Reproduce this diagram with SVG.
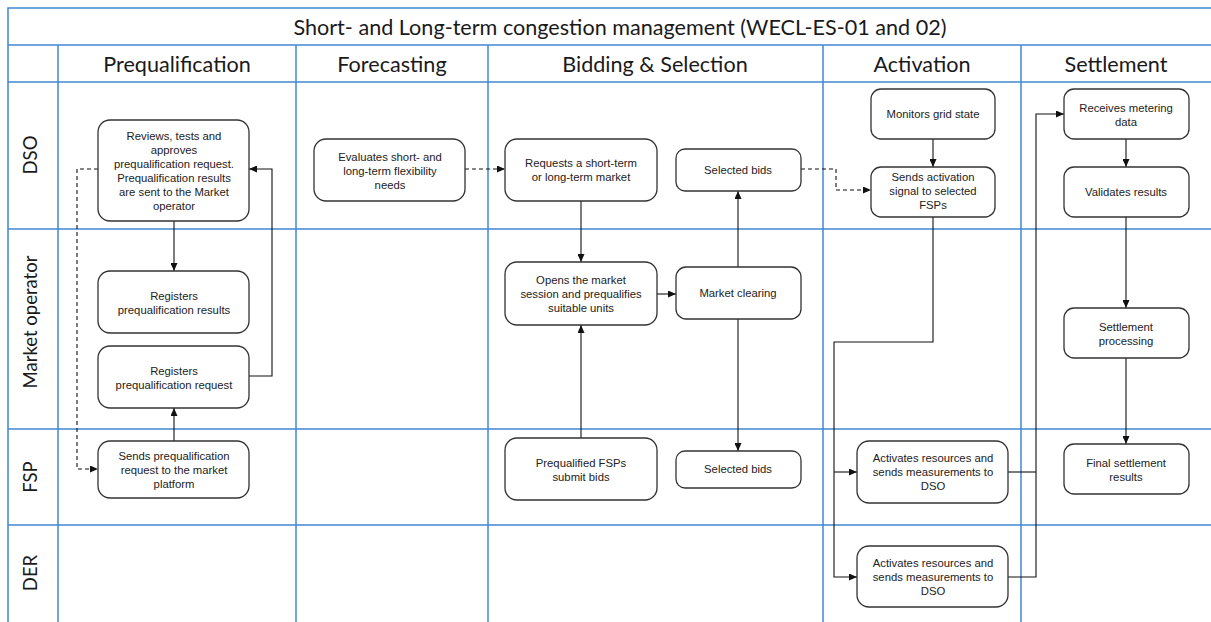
<svg xmlns="http://www.w3.org/2000/svg" width="1211" height="622" viewBox="0 0 1211 622">
  <style>
    .grid { stroke: #3f88d2; stroke-width: 1.5; fill: none; }
    .title { font-family: Lato, "Open Sans", sans-serif; font-size: 21.6px; fill: #1a1a1a; text-anchor: middle; }
    .head { font-family: Lato, "Open Sans", sans-serif; font-size: 21.6px; fill: #1a1a1a; text-anchor: middle; }
    .lane { font-family: Lato, "Open Sans", sans-serif; font-size: 18.5px; fill: #1a1a1a; text-anchor: middle; }
    .box { fill: #ffffff; stroke: #333333; stroke-width: 1.3; }
    .lbl { font-family: "Liberation Sans", Arial, sans-serif; font-size: 11.3px; fill: #222222; text-anchor: middle; }
    .edge { fill: none; stroke: #111111; stroke-width: 1.1; }
    .dash { fill: none; stroke: #111111; stroke-width: 1.1; stroke-dasharray: 4 3; }
  </style>
  <defs>
    <marker id="arrow" markerUnits="userSpaceOnUse" markerWidth="8" markerHeight="7" refX="8" refY="3.5" orient="auto">
      <path d="M0,0 L8,3.5 L0,7 z" fill="#111111"/>
    </marker>
  </defs>

  <rect x="0" y="0" width="1211" height="622" fill="#ffffff"/>

  <!-- swimlane grid -->
  <g id="grid" class="grid">
    <path d="M8,622 V8 H1211"/>
    <path d="M8,45 H1211"/>
    <path d="M8,82 H1211"/>
    <path d="M8,229 H1211"/>
    <path d="M8,429 H1211"/>
    <path d="M8,525 H1211"/>
    <path d="M58,45 V622"/>
    <path d="M296,45 V622"/>
    <path d="M488,45 V622"/>
    <path d="M823,45 V622"/>
    <path d="M1021,45 V622"/>
  </g>

  <g id="headings">
    <text class="title" x="620" y="34.5">Short- and Long-term congestion management (WECL-ES-01 and 02)</text>
    <text class="head" x="177" y="71.5">Prequalification</text>
    <text class="head" x="392" y="71.5">Forecasting</text>
    <text class="head" x="655" y="71.5">Bidding &amp; Selection</text>
    <text class="head" x="922" y="71.5">Activation</text>
    <text class="head" x="1116" y="71.5">Settlement</text>
  </g>

  <g id="lanes">
    <text class="lane" transform="translate(37,155) rotate(-90)">DSO</text>
    <text class="lane" transform="translate(37,322) rotate(-90)">Market operator</text>
    <text class="lane" transform="translate(37,477) rotate(-90)">FSP</text>
    <text class="lane" transform="translate(37,573) rotate(-90)">DER</text>
  </g>

  <!-- connectors -->
  <g id="connectors">
    <path class="edge" d="M174,221 V271" marker-end="url(#arrow)"/>
    <path class="edge" d="M249,376 H272 V169 H249" marker-end="url(#arrow)"/>
    <path class="edge" d="M174,441 V408" marker-end="url(#arrow)"/>
    <path class="dash" d="M98,169 H77 V469 H98" marker-end="url(#arrow)"/>
    <path class="dash" d="M465,169 H505" marker-end="url(#arrow)"/>
    <path class="edge" d="M581,201 V262" marker-end="url(#arrow)"/>
    <path class="edge" d="M581,438 V325" marker-end="url(#arrow)"/>
    <path class="edge" d="M657,294 H676" marker-end="url(#arrow)"/>
    <path class="edge" d="M738,267 V191" marker-end="url(#arrow)"/>
    <path class="edge" d="M738,319 V451" marker-end="url(#arrow)"/>
    <path class="dash" d="M801,169 H836 V190 H871" marker-end="url(#arrow)"/>
    <path class="edge" d="M933,139 V167" marker-end="url(#arrow)"/>
    <path class="edge" d="M933,217 V342 H834 V577 H857" marker-end="url(#arrow)"/>
    <path class="edge" d="M834,472 H857" marker-end="url(#arrow)"/>
    <path class="edge" d="M1008,472 H1036"/>
    <path class="edge" d="M1008,577 H1036 V114 H1064" marker-end="url(#arrow)"/>
    <path class="edge" d="M1126,139 V167" marker-end="url(#arrow)"/>
    <path class="edge" d="M1126,217 V308" marker-end="url(#arrow)"/>
    <path class="edge" d="M1126,358 V444" marker-end="url(#arrow)"/>
  </g>

  <!-- Prequalification -->
  <g id="review-request">
    <rect class="box" x="98" y="120" width="151" height="101" rx="12"/>
    <text class="lbl" x="174" y="140">Reviews, tests and</text>
    <text class="lbl" x="174" y="154">approves</text>
    <text class="lbl" x="174" y="168">prequalification request.</text>
    <text class="lbl" x="174" y="182">Prequalification results</text>
    <text class="lbl" x="174" y="196">are sent to the Market</text>
    <text class="lbl" x="174" y="210">operator</text>
  </g>
  <g id="register-results">
    <rect class="box" x="98" y="271" width="151" height="62" rx="12"/>
    <text class="lbl" x="174" y="300">Registers</text>
    <text class="lbl" x="174" y="314">prequalification results</text>
  </g>
  <g id="register-request">
    <rect class="box" x="98" y="346" width="151" height="62" rx="12"/>
    <text class="lbl" x="174" y="375">Registers</text>
    <text class="lbl" x="174" y="389">prequalification request</text>
  </g>
  <g id="send-request">
    <rect class="box" x="98" y="441" width="151" height="57" rx="12"/>
    <text class="lbl" x="174" y="460">Sends prequalification</text>
    <text class="lbl" x="174" y="474">request to the market</text>
    <text class="lbl" x="174" y="488">platform</text>
  </g>

  <!-- Forecasting -->
  <g id="evaluate-needs">
    <rect class="box" x="314" y="139" width="151" height="62" rx="12"/>
    <text class="lbl" x="390" y="161">Evaluates short- and</text>
    <text class="lbl" x="390" y="175">long-term flexibility</text>
    <text class="lbl" x="390" y="189">needs</text>
  </g>

  <!-- Bidding & Selection -->
  <g id="request-market">
    <rect class="box" x="505" y="139" width="152" height="62" rx="12"/>
    <text class="lbl" x="581" y="167">Requests a short-term</text>
    <text class="lbl" x="581" y="181">or long-term market</text>
  </g>
  <g id="selected-bids-dso">
    <rect class="box" x="676" y="149" width="125" height="42" rx="9"/>
    <text class="lbl" x="738" y="174">Selected bids</text>
  </g>
  <g id="open-session">
    <rect class="box" x="505" y="262" width="152" height="63" rx="12"/>
    <text class="lbl" x="581" y="284">Opens the market</text>
    <text class="lbl" x="581" y="298">session and prequalifies</text>
    <text class="lbl" x="581" y="312">suitable units</text>
  </g>
  <g id="market-clearing">
    <rect class="box" x="676" y="267" width="125" height="52" rx="10"/>
    <text class="lbl" x="738" y="297">Market clearing</text>
  </g>
  <g id="submit-bids">
    <rect class="box" x="505" y="438" width="152" height="62" rx="12"/>
    <text class="lbl" x="581" y="467">Prequalified FSPs</text>
    <text class="lbl" x="581" y="481">submit bids</text>
  </g>
  <g id="selected-bids-fsp">
    <rect class="box" x="676" y="451" width="125" height="37" rx="9"/>
    <text class="lbl" x="738" y="473">Selected bids</text>
  </g>

  <!-- Activation -->
  <g id="monitor-grid">
    <rect class="box" x="871" y="89" width="124" height="50" rx="10"/>
    <text class="lbl" x="933" y="118">Monitors grid state</text>
  </g>
  <g id="send-activation">
    <rect class="box" x="871" y="167" width="124" height="50" rx="10"/>
    <text class="lbl" x="933" y="181">Sends activation</text>
    <text class="lbl" x="933" y="195">signal to selected</text>
    <text class="lbl" x="933" y="209">FSPs</text>
  </g>
  <g id="activate-fsp">
    <rect class="box" x="857" y="441" width="151" height="62" rx="12"/>
    <text class="lbl" x="933" y="462">Activates resources and</text>
    <text class="lbl" x="933" y="476">sends measurements to</text>
    <text class="lbl" x="933" y="490">DSO</text>
  </g>
  <g id="activate-der">
    <rect class="box" x="857" y="546" width="151" height="61" rx="12"/>
    <text class="lbl" x="933" y="567">Activates resources and</text>
    <text class="lbl" x="933" y="581">sends measurements to</text>
    <text class="lbl" x="933" y="595">DSO</text>
  </g>

  <!-- Settlement -->
  <g id="receive-metering">
    <rect class="box" x="1064" y="89" width="125" height="50" rx="10"/>
    <text class="lbl" x="1126" y="112">Receives metering</text>
    <text class="lbl" x="1126" y="126">data</text>
  </g>
  <g id="validate-results">
    <rect class="box" x="1064" y="167" width="125" height="50" rx="10"/>
    <text class="lbl" x="1126" y="196">Validates results</text>
  </g>
  <g id="settlement-processing">
    <rect class="box" x="1064" y="308" width="125" height="50" rx="10"/>
    <text class="lbl" x="1126" y="331">Settlement</text>
    <text class="lbl" x="1126" y="345">processing</text>
  </g>
  <g id="final-settlement">
    <rect class="box" x="1064" y="444" width="125" height="50" rx="10"/>
    <text class="lbl" x="1126" y="467">Final settlement</text>
    <text class="lbl" x="1126" y="481">results</text>
  </g>
</svg>
